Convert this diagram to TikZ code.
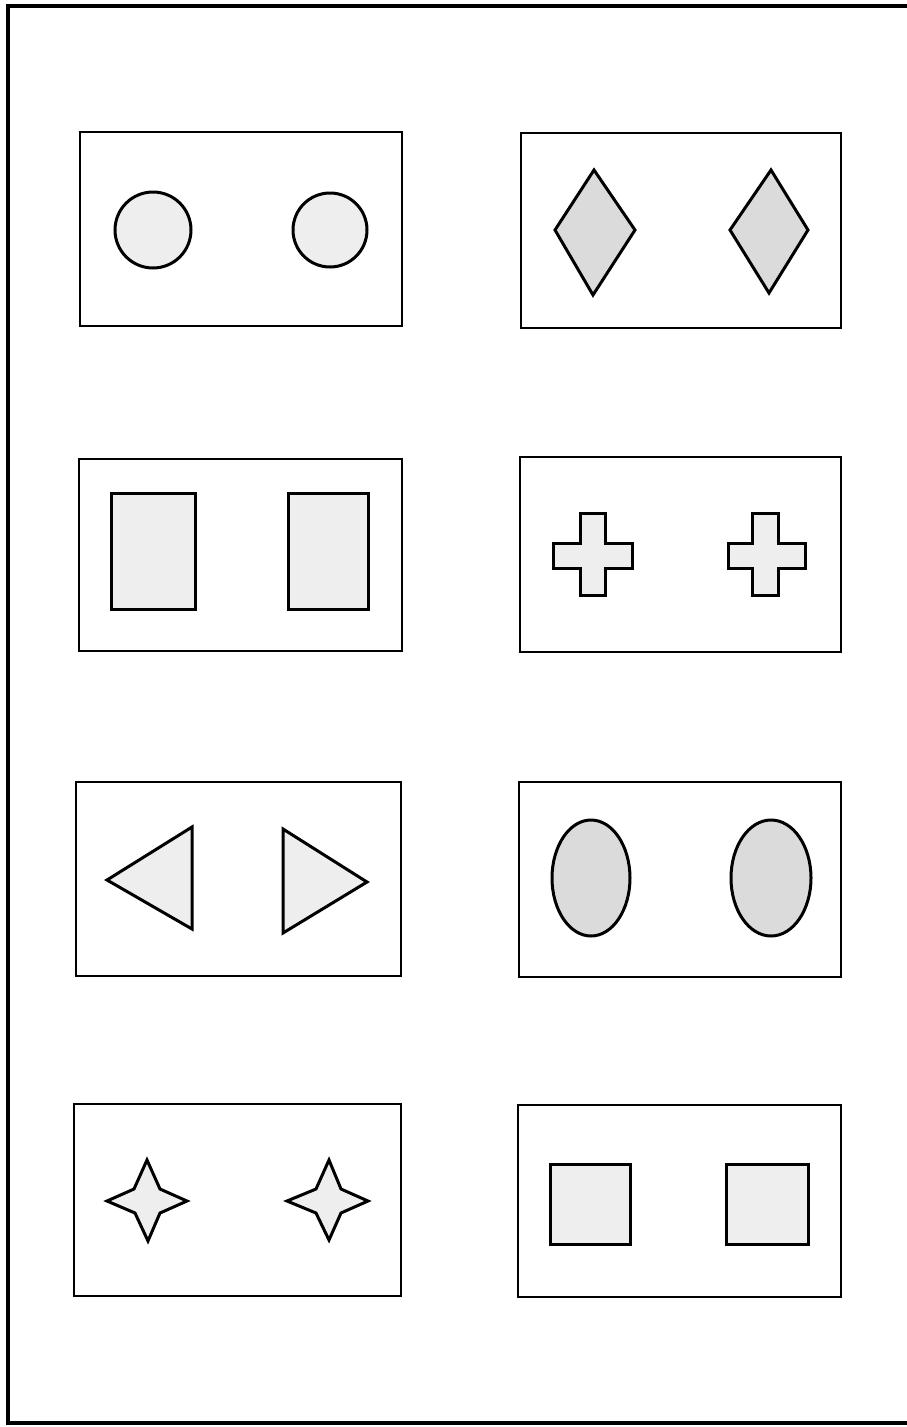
\documentclass[tikz,border=0pt]{standalone}
\begin{document}
\begin{tikzpicture}[x=1pt,y=-1pt,
  frame/.style={line width=3.2pt},
  card/.style={draw, line width=2.8pt},
  fig/.style={draw, line width=3pt, line join=miter, fill=gray!13},
  figdark/.style={draw, line width=3pt, line join=miter, fill=gray!28}]
\useasboundingbox (0,0) rectangle (906,1427);
% outer frame (right side runs off the page)
\draw[frame] (910,6) -- (8,6) -- (8,1423) -- (910,1423);
% cards
\draw[card] (80,132) rectangle (402,326);
\draw[card] (521,133) rectangle (841,328);
\draw[card] (79,459) rectangle (402,651);
\draw[card] (520,457) rectangle (841,652);
\draw[card] (76,782) rectangle (401,976);
\draw[card] (519,782) rectangle (841,977);
\draw[card] (74,1104) rectangle (401,1296);
\draw[card] (518,1105) rectangle (841,1297);
% row 1: circles
\draw[fig] (153,230) circle (38);
\draw[fig] (330,230) circle (37);
% row 1: diamonds
\draw[figdark] (594,170) -- (635,230) -- (593,295) -- (555,230) -- cycle;
\draw[figdark] (771,170) -- (808,230) -- (769,293) -- (730,230) -- cycle;
% row 2: rectangles
\draw[fig] (111,493) rectangle (195,609);
\draw[fig] (288,493) rectangle (368,609);
% row 2: crosses
\draw[fig] (580,513) -- (605,513) -- (605,543) -- (632,543) -- (632,568) -- (605,568) -- (605,595) -- (580,595) -- (580,568) -- (553,568) -- (553,543) -- (580,543) -- cycle;
\draw[fig] (752,513) -- (778,513) -- (778,543) -- (805,543) -- (805,568) -- (778,568) -- (778,595) -- (752,595) -- (752,568) -- (728,568) -- (728,543) -- (752,543) -- cycle;
% row 3: triangles
\draw[fig] (107,880) -- (192,827) -- (192,929) -- cycle;
\draw[fig] (283,829) -- (367,882) -- (283,933) -- cycle;
% row 3: ellipses
\draw[figdark] (591,878) ellipse (39 and 58);
\draw[figdark] (771,878) ellipse (40 and 58);
% row 4: stars
\draw[fig, miter limit=4] (147,1160) -- (160,1189) -- (187,1201) -- (160,1213) -- (148,1241) -- (135,1213) -- (107,1201) -- (134,1189) -- cycle;
\draw[fig, miter limit=4] (329,1160) -- (341,1189) -- (368,1201) -- (341,1213) -- (329,1240) -- (316,1213) -- (287,1201) -- (316,1189) -- cycle;
% row 4: squares
\draw[fig] (550,1164) rectangle (630,1244);
\draw[fig] (726,1164) rectangle (808,1244);
\end{tikzpicture}
\end{document}
